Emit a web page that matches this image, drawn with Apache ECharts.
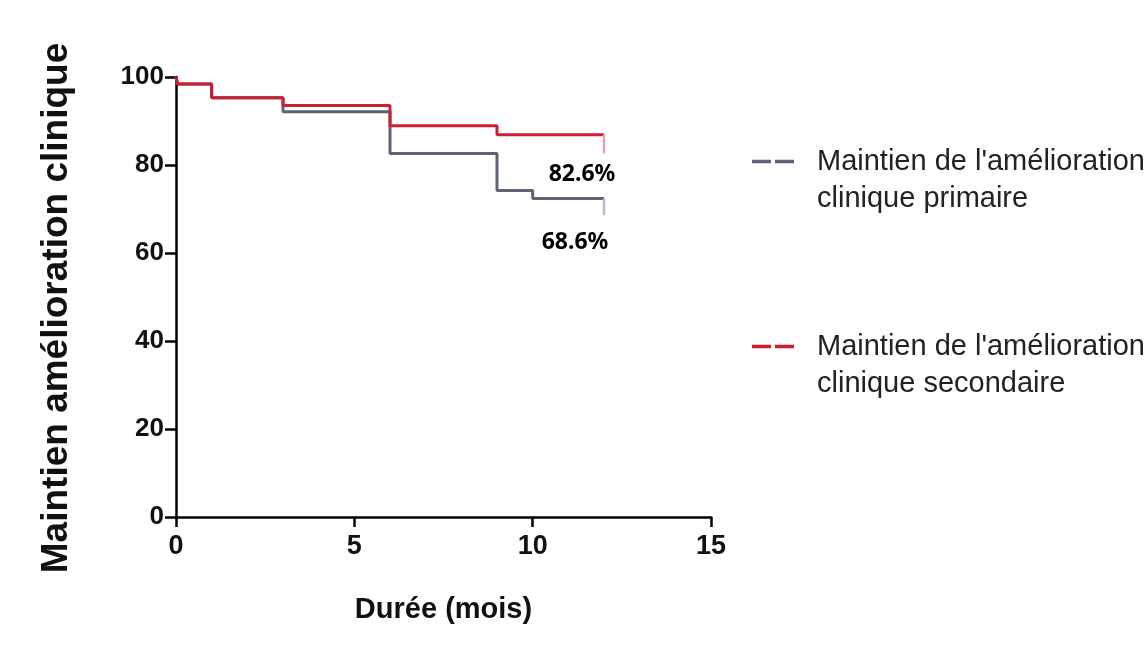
<!DOCTYPE html>
<html>
<head>
<meta charset="utf-8">
<script src="https://cdn.jsdelivr.net/npm/echarts@6/dist/echarts.min.js"></script>
<style>
  html, body { margin: 0; padding: 0; background: #ffffff; }
  #chart { width: 1147px; height: 652px; }
</style>
</head>
<body>
<div id="chart"></div>
<script>
// Kaplan-Meier style maintenance curves (months vs %)
const seriesNames = [
  "Maintien de l'amélioration\nclinique primaire",
  "Maintien de l'amélioration\nclinique secondaire"
];
const timePrimaire = [0, 0.05, 1, 3, 6, 9, 10, 12];
const survPrimaire = [100, 98.4, 95.3, 92.1, 82.6, 74.2, 72.4, 72.4];
const finalPrimaire = 68.6;

const timeSecondaire = [0, 0.05, 1, 3, 6, 9, 12];
const survSecondaire = [100, 98.4, 95.3, 93.5, 88.9, 86.9, 86.9];
const finalSecondaire = 82.6;

const xTicks = [0, 5, 10, 15];
const yTicks = [0, 20, 40, 60, 80, 100];

const colPrimaire = '#5d6275';
const colSecondaire = '#cc1f30';
const colPrimaireTail = '#b9bcc6';
const colSecondaireTail = '#eaa3ab';

const toPoints = (t, s) => t.map((x, i) => [x, s[i]]);
const tail = (t, s, v) => [[t[t.length - 1], s[s.length - 1]], [t[t.length - 1], v]];

const axisFont = "'Liberation Sans', Arial, sans-serif";

const chart = echarts.init(document.getElementById('chart'), null, { renderer: 'canvas' });

function pctLabel(offset) {
  return {
    show: true,
    position: 'bottom',
    distance: 6,
    offset: offset,
    formatter: p => p.value[1].toFixed(1) + '%',
    fontFamily: "'Noto Sans', 'Open Sans', sans-serif",
    fontWeight: 'bold',
    fontSize: 23,
    color: '#000'
  };
}

function tailData(t, s, v, offset) {
  const d = tail(t, s, v);
  d[1] = { value: d[1], symbolSize: 0, label: pctLabel(offset) };
  return d;
}

chart.setOption({
  animation: false,
  backgroundColor: '#ffffff',
  grid: { left: 176, right: 436, top: 77, bottom: 135, containLabel: false },
  xAxis: {
    type: 'value',
    min: 0, max: 15, interval: 5,
    name: 'Durée (mois)',
    nameLocation: 'middle',
    nameGap: 78,
    nameTextStyle: { fontFamily: axisFont, fontWeight: 'bold', fontSize: 29, color: '#111' },
    axisLine: { show: true, onZero: false, lineStyle: { color: '#000', width: 2.5 } },
    axisTick: { show: true, inside: false, length: 10, lineStyle: { color: '#000', width: 2.5 } },
    axisLabel: {
      margin: 16,
      fontFamily: axisFont, fontWeight: 'bold', fontSize: 27, color: '#111',
      formatter: v => (xTicks.includes(v) ? String(v) : '')
    },
    splitLine: { show: false }
  },
  yAxis: {
    type: 'value',
    min: 0, max: 100, interval: 20,
    name: 'Maintien amélioration clinique',
    nameLocation: 'middle',
    nameRotate: 90,
    nameGap: 101,
    nameTextStyle: {
      fontFamily: axisFont, fontWeight: 'bold', fontSize: 37, color: '#111',
      padding: [0, 22, 0, 0]
    },
    axisLine: { show: true, onZero: false, lineStyle: { color: '#000', width: 2.5 } },
    axisTick: { show: true, inside: false, length: 11, lineStyle: { color: '#000', width: 2.5 } },
    axisLabel: {
      margin: 12,
      fontFamily: axisFont, fontWeight: 'bold', fontSize: 26, color: '#111',
      formatter: v => (yTicks.includes(v) ? String(v) : '')
    },
    splitLine: { show: false }
  },
  legend: {
    orient: 'vertical',
    left: 747,
    top: 101,
    itemGap: 74,
    itemWidth: 42,
    itemHeight: 4,
    icon: 'path://M0,0H19V3.5H0Z M23,0H42V3.5H23Z',
    data: seriesNames,
    formatter: name => ' \n' + name,
    selectedMode: false,
    textStyle: {
      fontFamily: axisFont,
      fontSize: 29,
      lineHeight: 37,
      color: '#222',
      padding: [0, 0, 0, 18]
    }
  },
  series: [
    {
      name: seriesNames[0],
      type: 'line',
      step: 'end',
      data: toPoints(timePrimaire, survPrimaire),
      showSymbol: false,
      color: colPrimaire,
      lineStyle: { color: colPrimaire, width: 3 },
      itemStyle: { color: colPrimaire },
      emphasis: { disabled: true },
      z: 2
    },
    {
      name: 'primaire-fin',
      type: 'line',
      data: tailData(timePrimaire, survPrimaire, finalPrimaire, [-29, 10]),
      showSymbol: true,
      symbol: 'circle',
      symbolSize: 0,
      lineStyle: { color: colPrimaireTail, width: 2.5 },
      itemStyle: { color: colPrimaireTail },
      emphasis: { disabled: true },
      z: 2
    },
    {
      name: seriesNames[1],
      type: 'line',
      step: 'end',
      data: toPoints(timeSecondaire, survSecondaire),
      showSymbol: false,
      color: colSecondaire,
      lineStyle: { color: colSecondaire, width: 3 },
      itemStyle: { color: colSecondaire },
      emphasis: { disabled: true },
      z: 3
    },
    {
      name: 'secondaire-fin',
      type: 'line',
      data: tailData(timeSecondaire, survSecondaire, finalSecondaire, [-22, 3]),
      showSymbol: true,
      symbol: 'circle',
      symbolSize: 0,
      lineStyle: { color: colSecondaireTail, width: 2.5 },
      itemStyle: { color: colSecondaireTail },
      emphasis: { disabled: true },
      z: 3
    }
  ]
});
</script>
</body>
</html>
